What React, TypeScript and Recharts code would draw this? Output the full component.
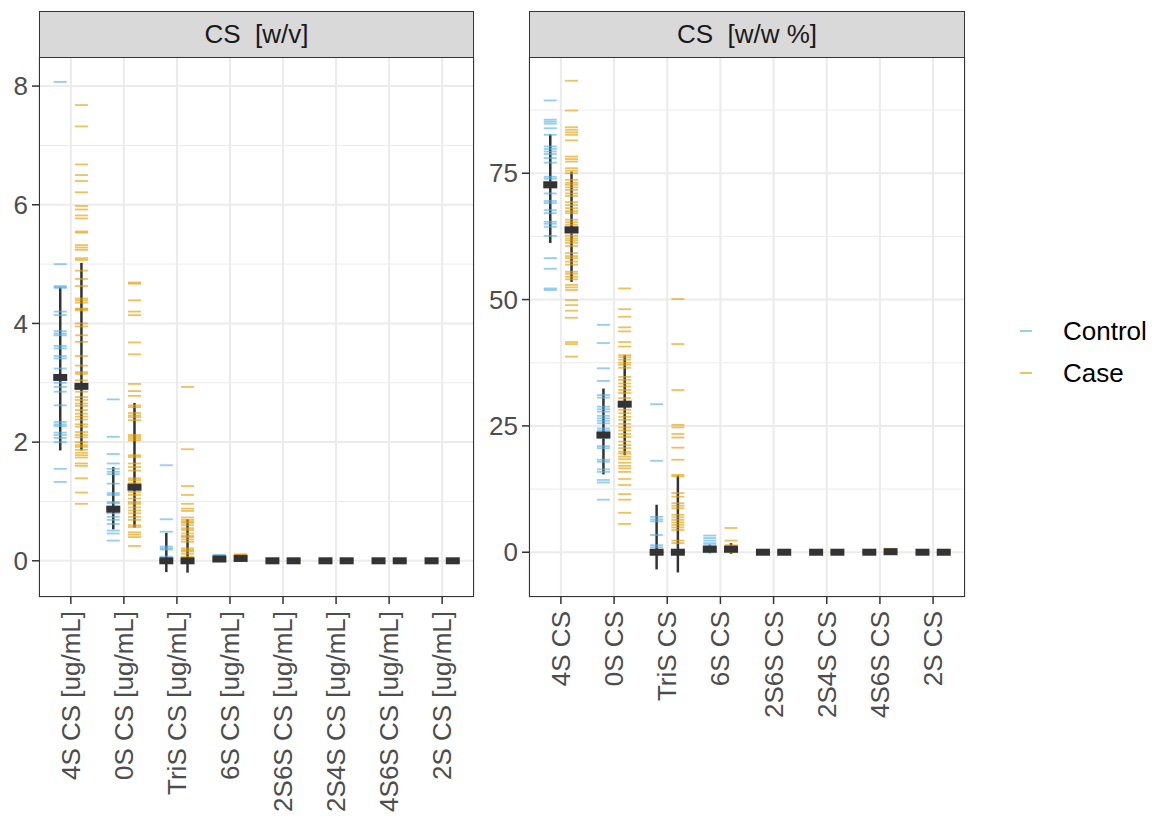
import React from "react";
import { CartesianGrid, ComposedChart, ErrorBar, Scatter, XAxis, YAxis } from "recharts";

const FONT = '"Liberation Sans", Arial, Helvetica, sans-serif';
const CONTROL = "#56B4E9";
const CASE = "#E69F00";
const DARK = "#333333";

// category labels
const wvCategories = ["4S CS [ug/mL]", "0S CS [ug/mL]", "TriS CS [ug/mL]", "6S CS [ug/mL]", "2S6S CS [ug/mL]", "2S4S CS [ug/mL]", "4S6S CS [ug/mL]", "2S CS [ug/mL]"];
const wwCategories = ["4S CS", "0S CS", "TriS CS", "6S CS", "2S6S CS", "2S4S CS", "4S6S CS", "2S CS"];

// CS [w/v] individual values, one list per category
const wvControl: number[][] = [
  [8.07, 5.0, 4.63, 4.61, 4.6, 4.2, 4.14, 3.87, 3.83, 3.8, 3.62, 3.58, 3.45, 3.41, 3.24, 3.12, 3.09, 3.0, 2.93, 2.85, 2.62, 2.34, 2.3, 2.27, 2.16, 2.12, 2.07, 2.0, 1.55, 1.33],
  [2.72, 2.09, 1.8, 1.64, 1.55, 1.5, 1.46, 1.3, 1.14, 1.11, 0.99, 0.97, 0.91, 0.87, 0.86, 0.8, 0.74, 0.69, 0.62, 0.51, 0.46, 0.34],
  [1.61, 0.7, 0.49, 0.24, 0.21, 0.19, 0.07, 0.02, 0, 0, 0, 0, 0, 0, 0],
  [0.1, 0.09, 0.07, 0.05, 0.04, 0.03, 0.03, 0.02, 0.01, 0],
  [0.01, 0, 0, 0],
  [0.01, 0, 0, 0],
  [0.01, 0, 0, 0],
  [0, 0, 0, 0],
];
const wvCase: number[][] = [
  [7.68, 7.32, 6.68, 6.5, 6.4, 6.21, 5.98, 5.92, 5.82, 5.77, 5.55, 5.53, 5.32, 5.28, 5.24, 5.1, 5.07, 4.89, 4.75, 4.63, 4.42, 4.39, 4.35, 4.25, 4.24, 4.22, 4.0, 3.95, 3.8, 3.69, 3.45, 3.29, 3.18, 3.15, 3.04, 2.96, 2.94, 2.85, 2.76, 2.71, 2.65, 2.61, 2.54, 2.48, 2.43, 2.38, 2.3, 2.26, 2.17, 2.12, 2.08, 2.0, 1.95, 1.92, 1.87, 1.82, 1.78, 1.74, 1.64, 1.6, 1.39, 1.15, 0.96],
  [4.69, 4.67, 4.39, 4.2, 4.14, 3.68, 3.48, 2.98, 2.86, 2.78, 2.62, 2.59, 2.49, 2.45, 2.42, 2.37, 2.12, 2.09, 2.06, 2.03, 1.78, 1.75, 1.64, 1.58, 1.52, 1.39, 1.36, 1.31, 1.28, 1.25, 1.24, 1.16, 1.11, 1.05, 0.99, 0.96, 0.9, 0.85, 0.8, 0.74, 0.69, 0.6, 0.57, 0.48, 0.44, 0.4, 0.25],
  [2.93, 1.88, 1.26, 1.11, 0.96, 0.88, 0.84, 0.73, 0.69, 0.66, 0.64, 0.6, 0.55, 0.52, 0.46, 0.42, 0.4, 0.36, 0.32, 0.21, 0.18, 0.16, 0.12, 0.07, 0.03, 0, 0, 0, 0, 0, 0, 0],
  [0.11, 0.1, 0.08, 0.06, 0.05, 0.04, 0.04, 0.03, 0.02, 0.01],
  [0.01, 0, 0, 0],
  [0.01, 0, 0, 0],
  [0.02, 0, 0, 0],
  [0.01, 0, 0, 0],
];
// median (box) and mean +/- sd (whisker)
const wvControlMedian = [3.09, 0.87, 0, 0.03, 0, 0, 0, 0];
const wvControlLow = [1.86, 0.53, -0.19, 0.0, 0, 0, 0, 0];
const wvControlHigh = [4.61, 1.58, 0.47, 0.07, 0, 0, 0, 0];
const wvCaseMedian = [2.94, 1.24, 0, 0.04, 0, 0, 0, 0];
const wvCaseLow = [1.86, 0.56, -0.2, 0.01, 0, 0, 0, 0];
const wvCaseHigh = [5.02, 2.66, 0.7, 0.08, 0, 0, 0, 0];

// CS [w/w %] individual values
const wwControl: number[][] = [
  [89.4, 85.6, 85.2, 84.8, 83.9, 82.6, 80.3, 79.8, 79.3, 78.8, 78.0, 77.1, 74.3, 73.9, 73.3, 72.7, 71.0, 69.5, 69.1, 67.7, 67.1, 65.4, 65.0, 64.4, 62.6, 58.2, 56.1, 52.2, 51.9],
  [45.0, 41.4, 36.4, 33.9, 31.1, 30.6, 28.8, 28.3, 27.8, 27.0, 26.5, 26.0, 25.5, 24.5, 24.1, 23.2, 22.6, 21.0, 20.6, 18.3, 17.9, 16.4, 15.9, 14.3, 13.8, 10.4],
  [29.3, 18.1, 7.0, 6.5, 6.1, 3.4, 1.4, 1.0, 0, 0, 0, 0, 0, 0, 0],
  [3.3, 2.8, 2.3, 1.8, 1.4, 1.0, 0.8, 0.6, 0.4, 0.2, 0],
  [0.1, 0, 0, 0],
  [0.1, 0, 0, 0],
  [0.1, 0, 0, 0],
  [0, 0, 0, 0],
];
const wwCase: number[][] = [
  [93.3, 87.4, 84.1, 83.6, 83.1, 82.6, 81.5, 78.3, 77.8, 77.3, 76.0, 75.5, 75.0, 73.7, 73.1, 72.7, 72.2, 71.7, 71.0, 70.5, 69.3, 68.7, 68.1, 67.5, 67.1, 65.8, 65.3, 64.8, 63.8, 63.1, 62.6, 62.1, 61.7, 61.2, 60.6, 59.2, 58.6, 58.2, 57.5, 56.9, 55.5, 55.1, 54.5, 54.0, 52.9, 52.4, 51.9, 49.9, 48.9, 47.8, 46.4, 41.6, 41.2, 38.7],
  [52.2, 48.1, 46.6, 44.5, 43.7, 41.6, 40.7, 39.0, 38.6, 38.1, 37.5, 37.1, 36.5, 34.7, 34.1, 33.4, 32.8, 32.1, 31.5, 30.5, 29.3, 28.2, 27.5, 26.8, 26.2, 25.4, 24.7, 24.1, 23.4, 22.8, 21.9, 21.2, 20.6, 19.9, 19.5, 18.9, 18.4, 17.7, 17.1, 16.6, 15.9, 14.5, 13.3, 11.5, 10.4, 7.8, 5.6],
  [50.1, 41.2, 32.1, 25.2, 24.7, 23.4, 22.7, 20.7, 18.3, 15.3, 15.0, 11.7, 11.0, 9.7, 9.2, 8.7, 7.4, 6.9, 6.4, 5.9, 5.4, 4.9, 4.4, 2.3, 1.8, 0, 0, 0, 0, 0, 0, 0],
  [4.8, 2.3, 1.4, 1.2, 1.0, 0.8, 0.6, 0.5, 0.3, 0.1, 0],
  [0.2, 0, 0, 0],
  [0.2, 0, 0, 0],
  [0.7, 0.3, 0, 0],
  [0.1, 0, 0, 0],
];
const wwControlMedian = [72.7, 23.2, 0, 0.6, 0, 0, 0, 0];
const wwControlLow = [61.2, 15.4, -3.4, -0.2, 0, 0, 0, 0];
const wwControlHigh = [82.7, 32.4, 9.4, 1.5, 0, 0, 0, 0];
const wwCaseMedian = [63.8, 29.3, 0, 0.6, 0, 0, 0.1, 0];
const wwCaseLow = [53.5, 19.2, -4.0, -0.3, 0, 0, 0, 0];
const wwCaseHigh = [75.3, 39.0, 15.2, 1.8, 0, 0, 0.2, 0];

const DODGE = 0.2;

const dashPoints = (groups: number[][], offset: number) =>
  groups.flatMap((vals, i) => vals.map((v) => ({ x: i + 1 + offset, y: v })));

const summaryPoints = (med: number[], lo: number[], hi: number[], offset: number) =>
  med.map((m, i) => ({ x: i + 1 + offset, y: m, err: [m - lo[i], hi[i] - m] }));

const makeDash = (color: string) => (props: any) => (
  <line x1={props.cx - 6.5} x2={props.cx + 6.5} y1={props.cy} y2={props.cy} stroke={color} strokeOpacity={0.65} strokeWidth={1.8} />
);
const MedianBox = (props: any) => (
  <rect x={props.cx - 7} y={props.cy - 3.5} width={14} height={7} fill={DARK} />
);

const makeXTick = (labels: string[]) => (props: any) => {
  const { x, y, payload } = props;
  return (
    <text transform={`translate(${x},${y}) rotate(-90)`} textAnchor="end" dominantBaseline="central" fill="#4D4D4D" fontSize={26} fontFamily={FONT}>
      {labels[payload.value - 1]}
    </text>
  );
};

type PanelProps = {
  left: number;
  width: number;
  axisWidth: number;
  rightPad: number;
  title: string;
  labels: string[];
  control: number[][];
  cases: number[][];
  ctrlSummary: { x: number; y: number; err: number[] }[];
  caseSummary: { x: number; y: number; err: number[] }[];
  domain: [number, number];
  majorTicks: number[];
  minorTicks: number[];
};

function Panel(p: PanelProps) {
  const plotLeft = p.axisWidth;
  const plotWidth = p.width - p.axisWidth - p.rightPad;
  return (
    <div style={{ position: "absolute", left: p.left, top: 0, width: p.width, height: 816 }}>
      <ComposedChart width={p.width} height={816} margin={{ top: 57, right: p.rightPad, bottom: 0, left: 0 }}>
        <CartesianGrid vertical={false} horizontalValues={p.minorTicks} stroke="#EBEBEB" strokeWidth={1} />
        <CartesianGrid stroke="#EBEBEB" strokeWidth={2} />
        <XAxis
          type="number"
          dataKey="x"
          domain={[0.4, 8.6]}
          ticks={[1, 2, 3, 4, 5, 6, 7, 8]}
          interval={0}
          allowDataOverflow
          axisLine={false}
          tickSize={7}
          tickMargin={7}
          tickLine={{ stroke: DARK, strokeWidth: 1.5 }}
          tick={makeXTick(p.labels)}
          height={219}
        />
        <YAxis
          type="number"
          dataKey="y"
          domain={p.domain}
          ticks={p.majorTicks}
          allowDataOverflow
          axisLine={false}
          width={p.axisWidth}
          tickSize={7}
          tickMargin={4}
          tickLine={{ stroke: DARK, strokeWidth: 1.5 }}
          tick={{ fontSize: 26, fill: "#4D4D4D", fontFamily: FONT }}
        />
        <Scatter data={dashPoints(p.control, -DODGE)} shape={makeDash(CONTROL)} isAnimationActive={false} />
        <Scatter data={dashPoints(p.cases, DODGE)} shape={makeDash(CASE)} isAnimationActive={false} />
        <Scatter data={p.ctrlSummary} shape={MedianBox} isAnimationActive={false}>
          <ErrorBar dataKey="err" direction="y" width={0} stroke={DARK} strokeWidth={2.5} />
        </Scatter>
        <Scatter data={p.caseSummary} shape={MedianBox} isAnimationActive={false}>
          <ErrorBar dataKey="err" direction="y" width={0} stroke={DARK} strokeWidth={2.5} />
        </Scatter>
      </ComposedChart>
      <div
        style={{
          position: "absolute", left: plotLeft, top: 57, width: plotWidth, height: 540,
          border: `1.5px solid ${DARK}`, boxSizing: "border-box", pointerEvents: "none",
        }}
      />
      <div
        style={{
          position: "absolute", left: plotLeft, top: 11, width: plotWidth, height: 47,
          background: "#D9D9D9", border: `1.5px solid ${DARK}`, boxSizing: "border-box",
          display: "flex", alignItems: "center", justifyContent: "center",
          fontFamily: FONT, fontSize: 26, color: "#1A1A1A", whiteSpace: "pre",
        }}
      >
        {p.title}
      </div>
    </div>
  );
}

export default function App() {
  return (
    <div style={{ position: "absolute", left: 0, top: 0, width: 1157, height: 816, background: "#fff", overflow: "hidden" }}>
      <Panel
        left={0}
        width={480}
        axisWidth={39}
        rightPad={6}
        title={"CS  [w/v]"}
        labels={wvCategories}
        control={wvControl}
        cases={wvCase}
        ctrlSummary={summaryPoints(wvControlMedian, wvControlLow, wvControlHigh, -DODGE)}
        caseSummary={summaryPoints(wvCaseMedian, wvCaseLow, wvCaseHigh, DODGE)}
        domain={[-0.61, 8.49]}
        majorTicks={[0, 2, 4, 6, 8]}
        minorTicks={[1, 3, 5, 7]}
      />
      <Panel
        left={480}
        width={490}
        axisWidth={49}
        rightPad={5}
        title={"CS  [w/w %]"}
        labels={wwCategories}
        control={wwControl}
        cases={wwCase}
        ctrlSummary={summaryPoints(wwControlMedian, wwControlLow, wwControlHigh, -DODGE)}
        caseSummary={summaryPoints(wwCaseMedian, wwCaseLow, wwCaseHigh, DODGE)}
        domain={[-8.86, 98.0]}
        majorTicks={[0, 25, 50, 75]}
        minorTicks={[12.5, 37.5, 62.5, 87.5]}
      />
      <div style={{ position: "absolute", left: 1014, top: 310, fontFamily: FONT, fontSize: 26, color: "#000" }}>
        {[{ name: "Control", color: CONTROL }, { name: "Case", color: CASE }].map((item) => (
          <div key={item.name} style={{ display: "flex", alignItems: "center", height: 42 }}>
            <svg width={49} height={42}>
              <line x1={6} x2={18} y1={21} y2={21} stroke={item.color} strokeOpacity={0.7} strokeWidth={1.8} />
            </svg>
            <span>{item.name}</span>
          </div>
        ))}
      </div>
    </div>
  );
}
